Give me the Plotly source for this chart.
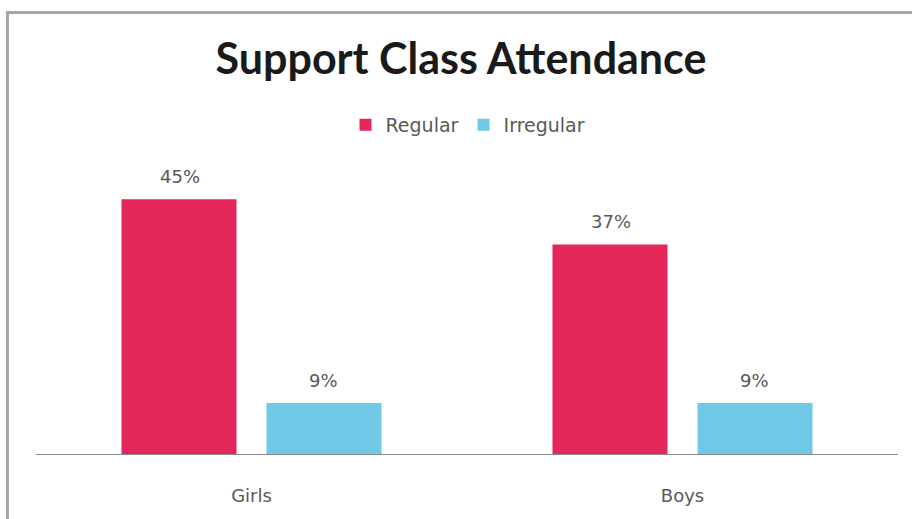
import plotly.graph_objects as go

categories = ["Girls", "Boys"]
series_names = ["Regular", "Irregular"]
regular = [45, 37]
irregular = [9, 9]
colors = ["#E52659", "#6FC9E6"]

small_font = "DejaVu Sans"
text_gray = "#595959"

fig = go.Figure()
for name, vals, col in zip(series_names, [regular, irregular], colors):
    fig.add_trace(go.Bar(x=categories, y=vals, name=name, marker_color=col,
                         marker_line_width=0))

# value labels above bars
offsets = [-72, 72]
for vals, dx in zip([regular, irregular], offsets):
    for c, v in zip(categories, vals):
        fig.add_annotation(x=c, y=v, text=f"{v}%", showarrow=False,
                           xshift=dx, yshift=23,
                           font=dict(family=small_font, size=18, color=text_gray))

fig.update_layout(
    width=912, height=519,
    margin=dict(l=36, r=14, t=171, b=65),
    paper_bgcolor="white", plot_bgcolor="white",
    barmode="group", bargap=0.327, bargroupgap=0.207,
    title=dict(text="<b>Support Class Attendance</b>", x=461 / 912, xanchor="center",
               y=1 - 59 / 519, yanchor="middle",
               font=dict(family="Lato", size=43, color="#1a1a1a")),
    legend=dict(orientation="h", x=(468 - 36) / 862, xanchor="center",
                y=(454 - 125) / 283, yanchor="middle",
                font=dict(family=small_font, size=19, color=text_gray),
                itemwidth=30, traceorder="normal"),
    showlegend=True,
    shapes=[dict(type="path", xref="paper", yref="paper",
                 path="M -0.0331,-0.3 L -0.0331,1.560 L 1.1,1.560",
                 line=dict(color="#A6A6A6", width=3))],
)
fig.update_xaxes(range=[-0.5, 1.5], showline=True, linecolor="#8c8c8c", linewidth=1,
                 ticks="", tickfont=dict(family=small_font, size=18, color=text_gray),
                 ticklabelstandoff=25, showgrid=False)
fig.update_yaxes(range=[0, 50], visible=False, showgrid=False)

fig.write_html("out.html", config={"displayModeBar": False},
               post_script="document.body.style.margin='0';")
